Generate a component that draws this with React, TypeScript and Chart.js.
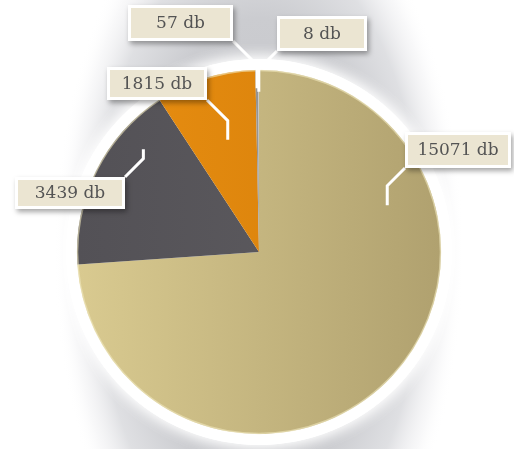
import React, { useEffect, useRef } from "react";
import { Chart, registerables } from "chart.js";

Chart.register(...registerables);

// ---- data ----
const values = [15071, 3439, 1815, 57, 8];
const unit = "db";
const labelTexts = values.map((v) => `${v} ${unit}`);
const colorsLeft = ["#d9ca90", "#535156", "#e98f12", "#8e8e8e", "#d8d8d8"];
const colorsRight = ["#b0a16f", "#605e62", "#d47d08", "#9a9a9a", "#e0e0e0"];

// ---- label layout (box rect, leader corner, position inside slice) ----
type Box = { x: number; y: number; w: number; h: number; corner: "tl" | "tr" | "bl" | "br"; t: number; f: number };
const boxes: Box[] = [
  { x: 405, y: 132, w: 106, h: 36, corner: "bl", t: 0.263, f: 0.75 },
  { x: 15, y: 177, w: 110, h: 32, corner: "tr", t: 0.75, f: 0.85 },
  { x: 107, y: 67, w: 100, h: 33, corner: "br", t: 0.55, f: 0.64 },
  { x: 128, y: 5, w: 105, h: 36, corner: "br", t: 0.5, f: 0.9 },
  { x: 277, y: 16, w: 90, h: 35, corner: "bl", t: 0.5, f: 0.88 },
];

const decorPlugin = {
  id: "decor",
  beforeDraw(chart: any) {
    const ctx = chart.ctx as CanvasRenderingContext2D;
    const meta = chart.getDatasetMeta(0);
    const arc = meta.data[0];
    if (!arc) return;
    const { x, y, outerRadius } = arc.getProps(["x", "y", "outerRadius"], true);
    ctx.save();
    ctx.fillStyle = "#ffffff";
    ctx.fillRect(0, 0, chart.width, chart.height);
    // soft grey glow behind the pie (tall ellipse)
    ctx.save();
    ctx.translate(x, y);
    ctx.scale(1, 1.9);
    const R = 205;
    const g = ctx.createRadialGradient(0, 0, 0, 0, 0, R);
    g.addColorStop(0, "#c2c3c7");
    g.addColorStop(0.6, "#cbccd0");
    g.addColorStop(0.8, "rgba(212,213,217,0.75)");
    g.addColorStop(0.92, "rgba(235,235,238,0.35)");
    g.addColorStop(1, "rgba(255,255,255,0)");
    ctx.fillStyle = g;
    ctx.beginPath();
    ctx.arc(0, 0, R, 0, Math.PI * 2);
    ctx.fill();
    ctx.restore();
    // white ring
    ctx.save();
    ctx.shadowColor = "rgba(255,255,255,1)";
    ctx.shadowBlur = 16;
    ctx.fillStyle = "#ffffff";
    ctx.beginPath();
    ctx.arc(x, y, outerRadius + 11, 0, Math.PI * 2);
    ctx.fill();
    ctx.fill();
    ctx.restore();
    ctx.restore();
  },
  afterDatasetsDraw(chart: any) {
    const ctx = chart.ctx as CanvasRenderingContext2D;
    const meta = chart.getDatasetMeta(0);
    const a0 = meta.data[0];
    if (!a0) return;
    const c = a0.getProps(["x", "y", "outerRadius"], true);
    // thin light rim on the pie edge
    ctx.save();
    ctx.strokeStyle = "rgba(240,232,190,0.6)";
    ctx.lineWidth = 1.5;
    ctx.beginPath();
    ctx.arc(c.x, c.y, c.outerRadius - 0.5, 0, Math.PI * 2);
    ctx.stroke();
    ctx.restore();

    const ends = meta.data.map((el: any, i: number) => {
      const p = el.getProps(["x", "y", "startAngle", "endAngle", "outerRadius"], true);
      const b = boxes[i];
      const a = p.startAngle + (p.endAngle - p.startAngle) * b.t;
      const r = p.outerRadius * b.f;
      return { ex: p.x + Math.cos(a) * r, ey: p.y + Math.sin(a) * r };
    });
    // leaders
    ctx.save();
    ctx.strokeStyle = "#ffffff";
    ctx.lineWidth = 3;
    ctx.lineJoin = "miter";
    ctx.lineCap = "butt";
    boxes.forEach((b, i) => {
      const { ex, ey } = ends[i];
      const sx = b.corner === "tr" || b.corner === "br" ? b.x + b.w : b.x;
      const sy = b.corner === "bl" || b.corner === "br" ? b.y + b.h : b.y;
      const dx = ex - sx;
      const dy = ey - sy;
      const d = Math.min(Math.abs(dx), Math.abs(dy));
      const kx = sx + Math.sign(dx) * d;
      const ky = sy + Math.sign(dy) * d;
      ctx.beginPath();
      ctx.moveTo(sx, sy);
      ctx.lineTo(kx, ky);
      ctx.lineTo(ex, ey);
      ctx.stroke();
    });
    ctx.restore();
    // boxes
    boxes.forEach((b, i) => {
      ctx.save();
      ctx.shadowColor = "rgba(0,0,0,0.35)";
      ctx.shadowBlur = 5;
      ctx.shadowOffsetX = 2;
      ctx.shadowOffsetY = 3;
      ctx.fillStyle = "#ffffff";
      ctx.fillRect(b.x, b.y, b.w, b.h);
      ctx.restore();
      ctx.save();
      ctx.fillStyle = "#ebe5d2";
      ctx.fillRect(b.x + 3, b.y + 3, b.w - 6, b.h - 6);
      ctx.fillStyle = "#545454";
      ctx.font = "17px 'DejaVu Serif', serif";
      ctx.textAlign = "center";
      ctx.textBaseline = "middle";
      ctx.fillText(labelTexts[i], b.x + b.w / 2, b.y + b.h / 2 + 1);
      ctx.restore();
    });
  },
};

export default function App() {
  const ref = useRef<HTMLCanvasElement | null>(null);
  useEffect(() => {
    if (!ref.current) return;
    const chart = new Chart(ref.current, {
      type: "pie",
      data: {
        labels: labelTexts,
        datasets: [
          {
            data: values,
            borderWidth: 0,
            backgroundColor: (context: any) => {
              const ch = context.chart;
              const area = ch.chartArea;
              const i = context.dataIndex;
              if (!area) return colorsLeft[i];
              const gr = ch.ctx.createLinearGradient(area.left, 0, area.right, 0);
              gr.addColorStop(0, colorsLeft[i]);
              gr.addColorStop(1, colorsRight[i]);
              return gr;
            },
          },
        ],
      },
      options: {
        responsive: false,
        animation: false,
        devicePixelRatio: 1,
        layout: { padding: { left: 77, right: 73, top: 70, bottom: 15 } },
        plugins: { legend: { display: false }, tooltip: { enabled: false } },
      },
      plugins: [decorPlugin],
    });
    return () => chart.destroy();
  }, []);
  return (
    <div style={{ position: "fixed", left: 0, top: 0, width: 514, height: 449, background: "#fff" }}>
      <canvas ref={ref} width={514} height={449} style={{ display: "block" }} />
    </div>
  );
}
